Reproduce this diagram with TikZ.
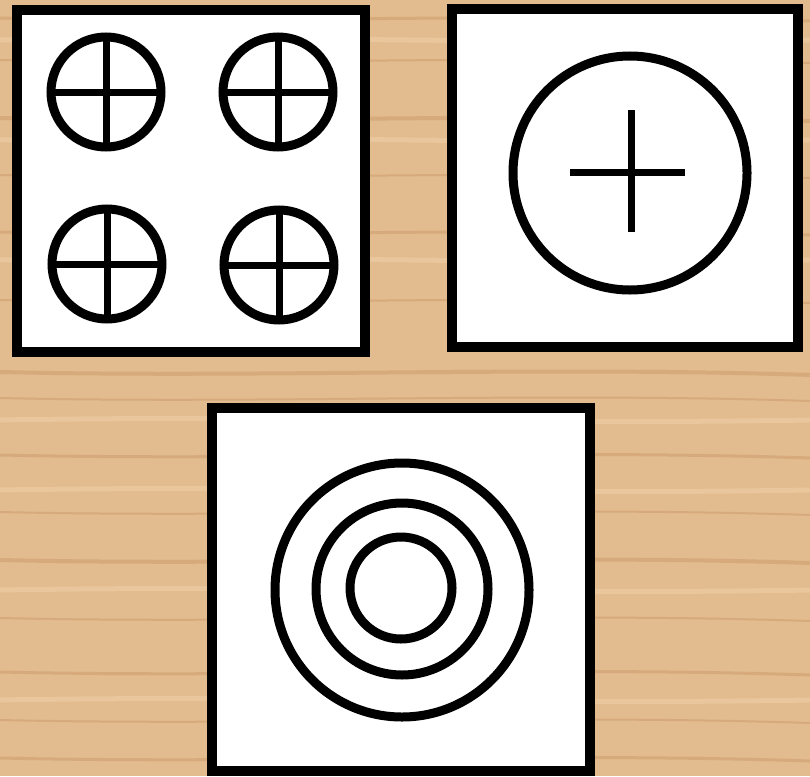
\documentclass[tikz,border=0pt]{standalone}
\usetikzlibrary{positioning}
\definecolor{wood}{RGB}{226,187,142}
\definecolor{wooddark}{RGB}{201,150,102}
\definecolor{woodlight}{RGB}{238,206,166}
\begin{document}
\begin{tikzpicture}[x=1pt,y=-1pt,
 plate/.style={draw,fill=white,line width=10pt},
 ring/.style={draw,line width=9pt},
 bar/.style={draw,line width=7pt}]
\useasboundingbox (0,0) rectangle (810,776);
% wood
\fill[wood] (0,0) rectangle (810,776);
\foreach \y/\w in {18/3,60/2,118/4,175/2,232/3,300/2,372/4,398/2,455/3,512/2,560/4,618/2,672/3,720/2,758/3}
  \draw[wooddark,opacity=0.45,line width=\w pt] (0,\y) .. controls (260,\y+6) and (540,\y-6) .. (810,\y+3);
\foreach \y in {40,140,260,420,490,590,700}
  \draw[woodlight,opacity=0.6,line width=5pt] (0,\y) .. controls (300,\y-5) and (520,\y+5) .. (810,\y);
% plates
\draw[plate] (17,10) rectangle (365,352);
\draw[plate] (452,9) rectangle (798,347);
\draw[plate] (212,408) rectangle (590,771);
% four small hobs
\foreach \cx/\cy in {106/92,278/92,107/264,279/265}{
  \draw[ring] (\cx,\cy) circle (55);
  \draw[bar] (\cx-55,\cy) -- (\cx+55,\cy);
  \draw[bar] (\cx,\cy-55) -- (\cx,\cy+55);
}
% one large hob
\draw[ring] (630,173) circle (117);
\draw[bar] (570,172) -- (685,172);
\draw[bar] (631,110) -- (631,232);
% concentric hob
\draw[ring] (402,590) circle (127);
\draw[ring] (402,589) circle (86);
\draw[ring] (401,588) circle (51);
\end{tikzpicture}
\end{document}
